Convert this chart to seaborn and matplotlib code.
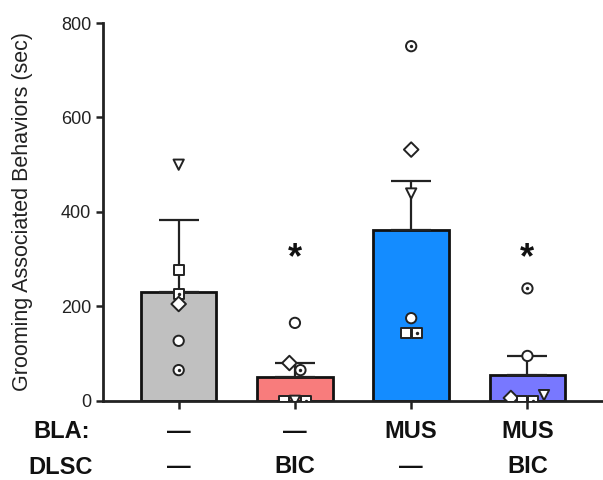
import numpy as np
import pandas as pd
import matplotlib
matplotlib.use("Agg")
import matplotlib.pyplot as plt
import seaborn as sns

sns.set_theme(style="ticks")
plt.rcParams['font.family'] = ['Liberation Sans', 'DejaVu Sans']

# ---- data ----
groups = ["G1", "G2", "G3", "G4"]
bla_labels = ["\u2014", "\u2014", "MUS", "MUS"]
dlsc_labels = ["\u2014", "BIC", "\u2014", "BIC"]
bar_means = [231, 51, 361, 55]
bar_err = [151, 29, 104, 40]
bar_colors = ["#c0c0c0", "#f87c7c", "#148cff", "#7878ff"]
signif = ["", "*", "", "*"]
signif_level = 302

animal_markers = {"A": "v", "B": "s", "C": "s", "D": "D", "E": "o", "F": "o"}
dotted_animals = ["C", "F"]
g1_animals = ["A", "B", "C", "D", "E", "F"]
g1_vals = [500, 277, 226, 205, 127, 65]
g2_animals = ["B", "A", "C", "D", "F", "E"]
g2_vals = [0, 0, 0, 80, 65, 165]
g3_animals = ["A", "B", "C", "D", "E", "F"]
g3_vals = [439, 143, 143, 532, 175, 751]
g4_animals = ["D", "B", "C", "A", "E", "F"]
g4_vals = [6, 0, 0, 12, 95, 238]

group_animals = [g1_animals, g2_animals, g3_animals, g4_animals]
group_vals = [g1_vals, g2_vals, g3_vals, g4_vals]

# ---- figure ----
fig = plt.figure(figsize=(6.03, 4.8), dpi=100)
ax = fig.add_axes([0.171, 0.165, 0.829, 0.787])

bar_df = pd.DataFrame({"group": groups, "mean": bar_means})
sns.barplot(data=bar_df, x="group", y="mean", hue="group", palette=bar_colors,
            order=groups, width=0.65, edgecolor="#111111", linewidth=2,
            saturation=1, legend=False, ax=ax, errorbar=None, zorder=2)

# error bars (upper only)
ax.errorbar(range(len(groups)), bar_means, yerr=[np.zeros(len(groups)), bar_err],
            fmt="none", ecolor="#222222", elinewidth=1.6, capsize=14.5, capthick=1.6,
            zorder=3)

# points: near-equal values are dodged sideways in listing order
rows = []
for gi, (ga, gv) in enumerate(zip(group_animals, group_vals)):
    clusters = []
    for idx in range(len(gv)):
        placed = False
        for cl in clusters:
            if any(abs(gv[idx] - gv[j]) < 20 for j in cl):
                cl.append(idx)
                placed = True
                break
        if not placed:
            clusters.append([idx])
    for cl in clusters:
        n = len(cl)
        for k, idx in enumerate(cl):
            off = (k - (n - 1) / 2) * 0.095
            rows.append({"x": gi + off, "y": gv[idx], "animal": ga[idx]})
pts = pd.DataFrame(rows)

sns.scatterplot(data=pts, x="x", y="y", style="animal", markers=animal_markers,
                s=55, facecolor="white", edgecolor="#222222", linewidth=1.4,
                legend=False, ax=ax, zorder=4)
dots = pts[pts["animal"].isin(dotted_animals)]
sns.scatterplot(data=dots, x="x", y="y", marker="o", s=6, color="#222222",
                linewidth=0, legend=False, ax=ax, zorder=5)

for i, s in enumerate(signif):
    if s:
        ax.text(i, signif_level, s, ha="center", va="center", fontsize=26,
                fontweight="bold", color="#111111")

ax.set_xlim(-0.65, 3.65)
ax.set_ylim(0, 800)
ax.set_yticks([0, 200, 400, 600, 800])
ax.set_xticks(range(len(groups)))
ax.set_xticklabels([""] * len(groups))
ax.set_xlabel("")
ax.set_ylabel("Grooming Associated Behaviors (sec)", fontsize=15.5, labelpad=20,
              color="#222222")
ax.tick_params(axis="y", labelsize=13, width=1.8, length=5, color="#222222",
               labelcolor="#222222")
ax.tick_params(axis="x", width=1.8, length=6, color="#222222")
for side in ["left", "bottom"]:
    ax.spines[side].set_linewidth(2)
    ax.spines[side].set_color("#222222")
sns.despine(ax=ax)

# bottom condition table
trans = matplotlib.transforms.blended_transform_factory(ax.transData, ax.transAxes)
for i in range(len(groups)):
    ax.text(i, -0.082, bla_labels[i], transform=trans, ha="center", va="center",
            fontsize=17, fontweight="bold", color="#111111")
    ax.text(i, -0.175, dlsc_labels[i], transform=trans, ha="center", va="center",
            fontsize=17, fontweight="bold", color="#111111")
fig.text(0.103, 1 - 432 / 480, "BLA:", ha="center", va="center", fontsize=17,
         fontweight="bold", color="#111111")
fig.text(0.100, 1 - 467 / 480, "DLSC", ha="center", va="center", fontsize=17,
         fontweight="bold", color="#111111")

fig.savefig("out.png", dpi=100)
